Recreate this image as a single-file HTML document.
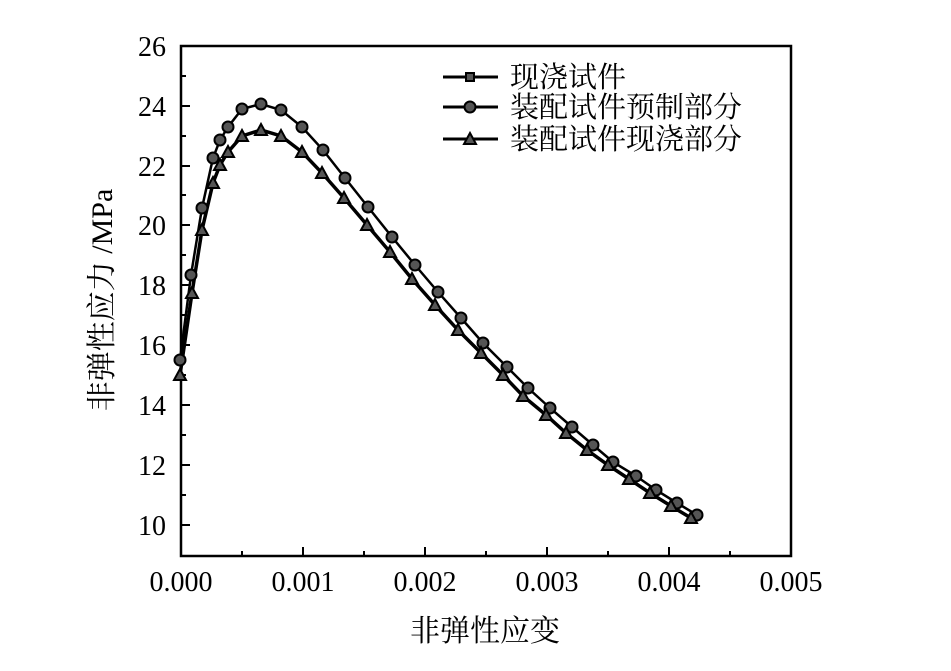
<!DOCTYPE html>
<html><head><meta charset="utf-8"><style>body{margin:0;background:#fff}svg{display:block}</style></head><body>
<svg width="951" height="671" xmlns="http://www.w3.org/2000/svg" font-family="'Liberation Serif','Noto Serif CJK SC',serif">
<rect x="181" y="46" width="610" height="510" fill="none" stroke="#000" stroke-width="2.5"/>
<g stroke="#000" stroke-width="2">
<line x1="181" y1="525" x2="190" y2="525"/><line x1="181" y1="465" x2="190" y2="465"/><line x1="181" y1="405" x2="190" y2="405"/><line x1="181" y1="345" x2="190" y2="345"/><line x1="181" y1="285" x2="190" y2="285"/><line x1="181" y1="225" x2="190" y2="225"/><line x1="181" y1="166" x2="190" y2="166"/><line x1="181" y1="106" x2="190" y2="106"/>
<line x1="181" y1="495" x2="186" y2="495"/><line x1="181" y1="435" x2="186" y2="435"/><line x1="181" y1="375" x2="186" y2="375"/><line x1="181" y1="315" x2="186" y2="315"/><line x1="181" y1="255" x2="186" y2="255"/><line x1="181" y1="195" x2="186" y2="195"/><line x1="181" y1="136" x2="186" y2="136"/><line x1="181" y1="76" x2="186" y2="76"/>
<line x1="303" y1="556" x2="303" y2="547"/><line x1="425" y1="556" x2="425" y2="547"/><line x1="547" y1="556" x2="547" y2="547"/><line x1="669" y1="556" x2="669" y2="547"/>
<line x1="242" y1="556" x2="242" y2="551"/><line x1="364" y1="556" x2="364" y2="551"/><line x1="486" y1="556" x2="486" y2="551"/><line x1="608" y1="556" x2="608" y2="551"/><line x1="730" y1="556" x2="730" y2="551"/>
</g>
<g font-size="28" text-anchor="end">
<text x="166" y="535">10</text><text x="166" y="475">12</text><text x="166" y="415">14</text><text x="166" y="355">16</text><text x="166" y="295">18</text><text x="166" y="235">20</text><text x="166" y="176">22</text><text x="166" y="116">24</text><text x="166" y="56">26</text>
</g>
<g font-size="28" text-anchor="middle">
<text x="181" y="591">0.000</text><text x="303" y="591">0.001</text><text x="425" y="591">0.002</text><text x="547" y="591">0.003</text><text x="669" y="591">0.004</text><text x="791" y="591">0.005</text>
</g>
<text x="485" y="641" font-size="30" text-anchor="middle">非弹性应变</text>
<text transform="translate(112,300) rotate(-90)" font-size="30" text-anchor="middle">非弹性应力 /MPa</text>
<defs>
<circle id="c" r="5.5" fill="#555" stroke="#000" stroke-width="2"/>
<path id="t" d="M0,-6 L6,5 L-6,5 Z" fill="#555" stroke="#000" stroke-width="2"/>
<rect id="s" x="-4" y="-4" width="8" height="8" fill="#555" stroke="#000" stroke-width="2"/>
</defs>
<polyline fill="none" stroke="#000" stroke-width="3.5" points="180,375 192,293 202,230 213,183 220,165 228,152 242,136 261,130 281,136 302,152 322,173 344,198 367,225 390,252 412,279 435,305 458,330 481,353 503,375 523,396 546,415 566,433 587,450 608,465 629,479 650,493 671,506 691,518"/>
<polyline fill="none" stroke="#000" stroke-width="2.5" points="180,360 191,275 202,208 213,158 220,140 228,127 242,109 261,104 281,110 302,127 323,150 345,178 368,207 392,237 415,265 438,292 461,318 483,343 507,367 528,388 550,408 572,427 593,445 613,462 636,476 656,490 677,503 697,515"/>
<g>
<use href="#c" x="180" y="360"/><use href="#c" x="191" y="275"/><use href="#c" x="202" y="208"/><use href="#c" x="213" y="158"/><use href="#c" x="220" y="140"/><use href="#c" x="228" y="127"/><use href="#c" x="242" y="109"/><use href="#c" x="261" y="104"/><use href="#c" x="281" y="110"/><use href="#c" x="302" y="127"/><use href="#c" x="323" y="150"/><use href="#c" x="345" y="178"/><use href="#c" x="368" y="207"/><use href="#c" x="392" y="237"/><use href="#c" x="415" y="265"/><use href="#c" x="438" y="292"/><use href="#c" x="461" y="318"/><use href="#c" x="483" y="343"/><use href="#c" x="507" y="367"/><use href="#c" x="528" y="388"/><use href="#c" x="550" y="408"/><use href="#c" x="572" y="427"/><use href="#c" x="593" y="445"/><use href="#c" x="613" y="462"/><use href="#c" x="636" y="476"/><use href="#c" x="656" y="490"/><use href="#c" x="677" y="503"/><use href="#c" x="697" y="515"/>
</g>
<g>
<use href="#t" x="180" y="375"/><use href="#t" x="192" y="293"/><use href="#t" x="202" y="230"/><use href="#t" x="213" y="183"/><use href="#t" x="220" y="165"/><use href="#t" x="228" y="152"/><use href="#t" x="242" y="136"/><use href="#t" x="261" y="130"/><use href="#t" x="281" y="136"/><use href="#t" x="302" y="152"/><use href="#t" x="322" y="173"/><use href="#t" x="344" y="198"/><use href="#t" x="367" y="225"/><use href="#t" x="390" y="252"/><use href="#t" x="412" y="279"/><use href="#t" x="435" y="305"/><use href="#t" x="458" y="330"/><use href="#t" x="481" y="353"/><use href="#t" x="503" y="375"/><use href="#t" x="523" y="396"/><use href="#t" x="546" y="415"/><use href="#t" x="566" y="433"/><use href="#t" x="587" y="450"/><use href="#t" x="608" y="465"/><use href="#t" x="629" y="479"/><use href="#t" x="650" y="493"/><use href="#t" x="671" y="506"/><use href="#t" x="691" y="518"/>
</g>
<g stroke="#000" stroke-width="3">
<line x1="443" y1="77" x2="498" y2="77"/><line x1="443" y1="107" x2="498" y2="107"/><line x1="443" y1="139" x2="498" y2="139"/>
</g>
<use href="#s" x="470" y="77"/><use href="#c" x="470" y="107"/><use href="#t" x="470" y="139"/>
<g font-size="29" font-family="'Liberation Serif','Noto Serif CJK SC','Noto Sans CJK SC',serif">
<text x="510" y="87">现浇试件</text><text x="510" y="117">装配试件预制部分</text><text x="510" y="149">装配试件现浇部分</text>
</g>
</svg>
</body></html>
